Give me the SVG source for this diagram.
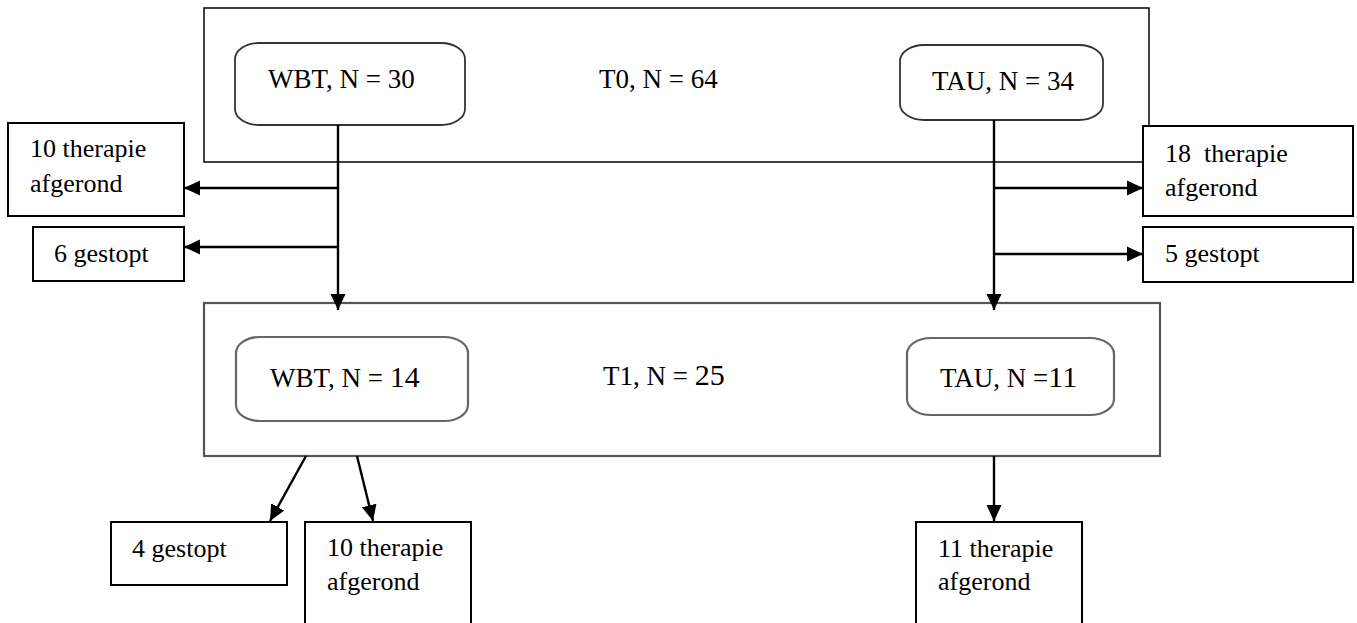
<svg xmlns="http://www.w3.org/2000/svg" width="1357" height="623" viewBox="0 0 1357 623">
<defs>
<style>
text{font-family:"Liberation Serif","Times New Roman",serif;font-size:26px;fill:#000}
.lbl{font-size:27px}
.big{font-size:30px}
.frame{fill:none;stroke:#111;stroke-width:1.6}
.frame2{fill:none;stroke:#555;stroke-width:2.2}
.rnd{fill:#fff;stroke:#333;stroke-width:1.8}
.rnd2{fill:#fff;stroke:#666;stroke-width:2.2}
.box{fill:#fff;stroke:#000;stroke-width:2}
.con{fill:none;stroke:#000;stroke-width:2.4}
</style>
<marker id="ah" markerWidth="17" markerHeight="17" refX="16" refY="8" orient="auto" markerUnits="userSpaceOnUse">
<path d="M0,0.5 L16,8 L0,15.5 z" fill="#000"/>
</marker>
</defs>
<rect width="1357" height="623" fill="#fff"/>

<g id="T0">
<rect class="frame" x="204" y="8" width="945" height="154"/>
<text class="lbl" x="599" y="88">T0, N = 64</text>
</g>
<g id="WBT30">
<rect class="rnd" x="235" y="43" width="230" height="82" rx="24" ry="16"/>
<text class="lbl" x="268" y="88">WBT, N = 30</text>
</g>
<g id="TAU34">
<rect class="rnd" x="900" y="45" width="203" height="75" rx="24" ry="16"/>
<text class="lbl" x="932" y="90">TAU, N = 34</text>
</g>

<g id="T1">
<rect class="frame2" x="204" y="303" width="956" height="153"/>
<text class="lbl" x="603" y="385">T1, N = <tspan class="big">25</tspan></text>
</g>
<g id="WBT14">
<rect class="rnd2" x="236" y="337" width="232" height="84" rx="24" ry="16"/>
<text class="lbl" x="270" y="387">WBT, N = <tspan class="big">14</tspan></text>
</g>
<g id="TAU11">
<rect class="rnd2" x="907" y="338" width="207" height="77" rx="24" ry="16"/>
<text class="lbl" x="940" y="387">TAU, N =<tspan class="big">11</tspan></text>
</g>

<g id="wbt-afgerond">
<rect class="box" x="8" y="123" width="176" height="93"/>
<text x="30" y="157">10 therapie</text>
<text x="30" y="192">afgerond</text>
</g>
<g id="wbt-gestopt">
<rect class="box" x="33" y="227" width="151" height="54"/>
<text x="54" y="262">6 gestopt</text>
</g>
<g id="tau-afgerond">
<rect class="box" x="1143" y="126" width="210" height="90"/>
<text x="1165" y="162" xml:space="preserve">18  therapie</text>
<text x="1165" y="196">afgerond</text>
</g>
<g id="tau-gestopt">
<rect class="box" x="1143" y="227" width="210" height="55"/>
<text x="1165" y="262">5 gestopt</text>
</g>

<g id="t1-gestopt">
<rect class="box" x="111" y="522" width="176" height="63"/>
<text x="132" y="557">4 gestopt</text>
</g>
<g id="t1-wbt-afgerond">
<rect class="box" x="305" y="522" width="166" height="110"/>
<text x="327" y="556">10 therapie</text>
<text x="327" y="590">afgerond</text>
</g>
<g id="t1-tau-afgerond">
<rect class="box" x="916" y="522" width="166" height="110"/>
<text x="938" y="557">11 therapie</text>
<text x="938" y="590">afgerond</text>
</g>

<g id="connectors">
<path class="con" d="M338,125 L338,310" marker-end="url(#ah)"/>
<path class="con" d="M338,188 L184,188" marker-end="url(#ah)"/>
<path class="con" d="M338,247 L184,247" marker-end="url(#ah)"/>
<path class="con" d="M994,120 L994,310" marker-end="url(#ah)"/>
<path class="con" d="M994,188 L1143,188" marker-end="url(#ah)"/>
<path class="con" d="M994,254 L1143,254" marker-end="url(#ah)"/>
<path class="con" d="M306,456 L270,521" marker-end="url(#ah)"/>
<path class="con" d="M357,456 L373,521" marker-end="url(#ah)"/>
<path class="con" d="M994,456 L994,521" marker-end="url(#ah)"/>
</g>
</svg>
